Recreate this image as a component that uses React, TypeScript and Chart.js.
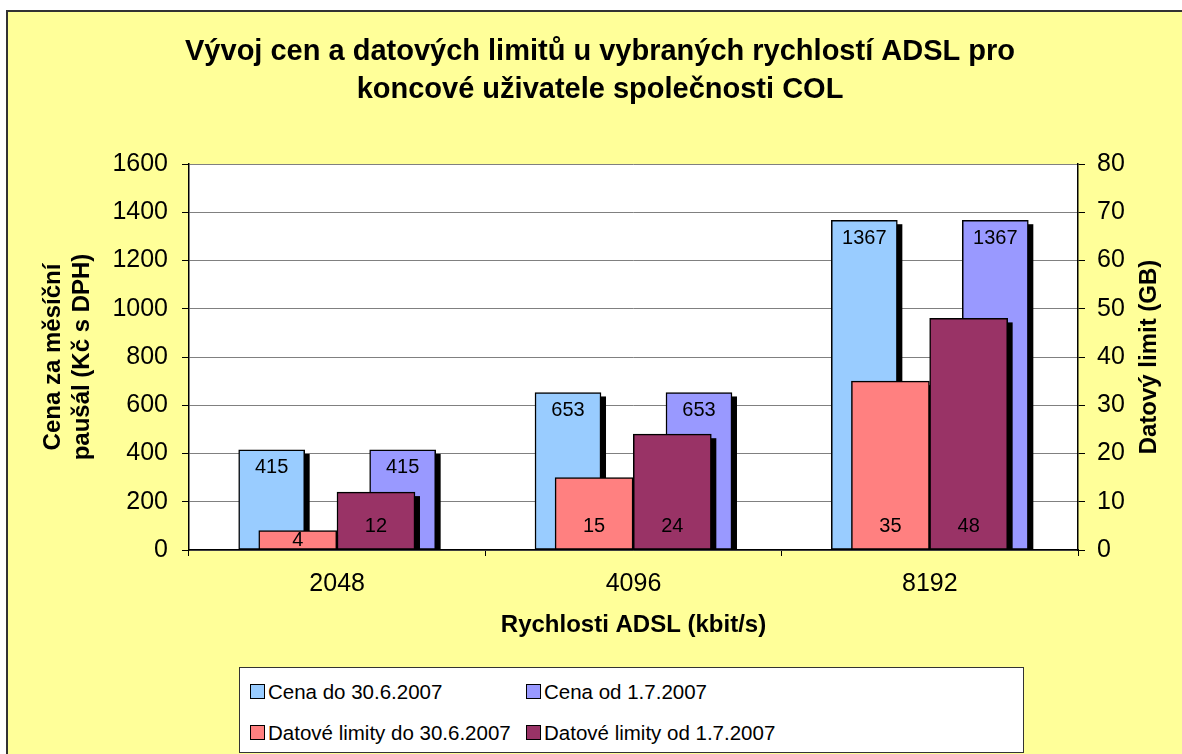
import React, { useEffect, useRef } from 'react';
import { Chart, registerables } from 'chart.js';

Chart.register(...registerables);

const FONT = "'Liberation Sans', Arial, Helvetica, sans-serif";

// ---- data ----
const categories = ['2048', '4096', '8192'];
const cenaDo = [415, 653, 1367];
const cenaOd = [415, 653, 1367];
const limityDo = [4, 15, 35];
const limityOd = [12, 24, 48];

const leftTicks = [0, 200, 400, 600, 800, 1000, 1200, 1400, 1600];
const rightTicks = [0, 10, 20, 30, 40, 50, 60, 70, 80];

const seriesNames = [
  'Cena do 30.6.2007',
  'Cena od 1.7.2007',
  'Datové limity do 30.6.2007',
  'Datové limity od 1.7.2007',
];
const seriesColors = ['#99CCFF', '#9999FF', '#FF8080', '#993366'];

const titleLines = [
  'Vývoj cen a datových limitů u vybraných rychlostí ADSL pro',
  'koncové uživatele společnosti COL',
];
const xTitle = 'Rychlosti ADSL (kbit/s)';
const yTitle = ['Cena za měsíční', 'paušál (Kč s DPH)'];
const y2Title = 'Datový limit (GB)';

// ---- layout (not data): bar offsets within a category (in category units) and widths ----
const barShift = [-0.221, 0.221, -0.133, 0.131];
const barWidthPx = [66, 66, 78, 78];
const seriesAxis = ['y', 'y', 'y2', 'y2'];
const seriesOrder = [2, 2, 1, 0];

// ---- plugin: plot background, bar shadows, data labels, right axis title ----
const excelPlugin: any = {
  id: 'excelLook',
  beforeDraw(chart: any) {
    const { ctx, chartArea: a } = chart;
    ctx.save();
    ctx.fillStyle = '#ffffff';
    ctx.fillRect(a.left, a.top, a.right - a.left, a.bottom - a.top);
    ctx.restore();
  },
  beforeDatasetDraw(chart: any, args: any) {
    const { ctx, chartArea: a } = chart;
    ctx.save();
    ctx.beginPath();
    ctx.rect(a.left, a.top, a.right - a.left, a.bottom - a.top);
    ctx.clip();
    ctx.fillStyle = '#000000';
    args.meta.data.forEach((el: any) => {
      const { x, y, base, width } = el.getProps(['x', 'y', 'base', 'width'], true);
      ctx.fillRect(x - width / 2 + 5, y + 4, width, base - y - 4);
    });
    ctx.restore();
  },
  afterDatasetsDraw(chart: any) {
    const { ctx } = chart;
    ctx.save();
    ctx.fillStyle = '#000';
    ctx.font = `20px ${FONT}`;
    ctx.textAlign = 'center';
    ctx.textBaseline = 'middle';
    chart.getSortedVisibleDatasetMetas().forEach((m: any) => {
      const ds = chart.data.datasets[m.index];
      m.data.forEach((el: any, i: number) => {
        const { x, y, base } = el.getProps(['x', 'y', 'base'], true);
        const pt = ds.data[i];
        const label = String(pt && typeof pt === 'object' ? pt.y : pt);
        let ly: number;
        if (m.yAxisID === 'y') {
          ly = y + 18;
        } else {
          ly = Math.max(base - 23, (y + base) / 2);
        }
        ctx.fillText(label, x, ly);
      });
    });
    ctx.restore();
  },
  afterDraw(chart: any) {
    const { ctx, chartArea: a } = chart;
    ctx.save();
    ctx.translate(a.right + 71, (a.top + a.bottom) / 2);
    ctx.rotate(-Math.PI / 2);
    ctx.fillStyle = '#000';
    ctx.font = `bold 24px ${FONT}`;
    ctx.textAlign = 'center';
    ctx.textBaseline = 'middle';
    ctx.fillText(y2Title, 0, 0);
    ctx.restore();
  },
};

export default function App() {
  const canvasRef = useRef<HTMLCanvasElement>(null);

  useEffect(() => {
    if (!canvasRef.current) return;
    const seriesValues = [cenaDo, cenaOd, limityDo, limityOd];
    const n = categories.length;

    const datasets = seriesValues.map((vals, s) => ({
      label: seriesNames[s],
      data: vals.map((v, i) => ({ x: i, y: v })),
      backgroundColor: seriesColors[s],
      borderColor: '#000',
      borderWidth: 1.5,
      borderSkipped: false,
      grouped: false,
      barThickness: barWidthPx[s],
      xAxisID: 'xs' + s,
      yAxisID: seriesAxis[s],
      order: seriesOrder[s],
    }));

    const hiddenX: any = {};
    barShift.forEach((sh, s) => {
      hiddenX['xs' + s] = {
        type: 'linear',
        display: false,
        offset: false,
        bounds: 'data',
        min: -0.5 - sh,
        max: n - 0.5 - sh,
        grid: { display: false },
      };
    });

    const chart = new Chart(canvasRef.current, {
      type: 'bar',
      data: {
        labels: categories,
        datasets,
      } as any,
      options: {
        responsive: false,
        animation: false,
        events: [],
        layout: { padding: { left: 18, right: 0, top: 0, bottom: 114 } },
        plugins: {
          legend: { display: false },
          tooltip: { enabled: false },
          title: {
            display: true,
            text: titleLines,
            color: '#000',
            font: { family: FONT, size: 29, weight: 'bold', lineHeight: 38 / 29 },
            padding: { top: 33, bottom: 55 },
          },
        },
        scales: {
          x: {
            type: 'category',
            position: 'bottom',
            labels: categories,
            offset: true,
            grid: {
              display: true,
              drawOnChartArea: false,
              offset: true,
              tickLength: 6,
              tickColor: '#000',
            },
            border: { display: true, color: '#000', width: 1.5 },
            ticks: {
              font: { family: FONT, size: 25 },
              color: '#000',
              padding: 13,
              maxRotation: 0,
            },
            title: {
              display: true,
              text: xTitle,
              color: '#000',
              font: { family: FONT, size: 24, weight: 'bold', lineHeight: 1.2 },
              padding: { top: 0, bottom: 0 },
            },
            afterFit: (s: any) => {
              s.height = 90;
            },
          },
          ...hiddenX,
          y: {
            position: 'left',
            min: leftTicks[0],
            max: leftTicks[leftTicks.length - 1],
            afterBuildTicks: (s: any) => {
              s.ticks = leftTicks.map((v) => ({ value: v }));
            },
            grid: { color: '#808080', tickColor: '#000', tickLength: 7, lineWidth: 1 },
            border: { display: true, color: '#000', width: 1.5 },
            ticks: {
              font: { family: FONT, size: 25 },
              color: '#000',
              padding: 14,
              callback: (v: any) => String(v),
            },
            title: {
              display: true,
              text: yTitle,
              color: '#000',
              font: { family: FONT, size: 24, weight: 'bold', lineHeight: 1.2 },
              padding: { top: 21, bottom: 0 },
            },
            afterFit: (s: any) => {
              s.width = 171;
            },
          },
          y2: {
            position: 'right',
            min: rightTicks[0],
            max: rightTicks[rightTicks.length - 1],
            afterBuildTicks: (s: any) => {
              s.ticks = rightTicks.map((v) => ({ value: v }));
            },
            grid: { drawOnChartArea: false, tickColor: '#000', tickLength: 7 },
            border: { display: true, color: '#000', width: 1.5 },
            ticks: {
              font: { family: FONT, size: 25 },
              color: '#000',
              padding: 12,
              callback: (v: any) => String(v),
            },
            afterFit: (s: any) => {
              s.width = 104;
            },
          },
        },
      } as any,
      plugins: [excelPlugin],
    });
    return () => chart.destroy();
  }, []);

  const legendPos = [
    { left: 11, top: 23.5 },
    { left: 287, top: 23.5 },
    { left: 11, top: 64.5 },
    { left: 287, top: 64.5 },
  ];

  return (
    <div
      style={{
        position: 'fixed',
        left: 0,
        top: 0,
        width: 1182,
        height: 754,
        overflow: 'hidden',
        background: '#ffffff',
      }}
    >
      <div
        style={{
          position: 'absolute',
          left: 6,
          top: 10,
          width: 1250,
          height: 800,
          background: '#FFFF99',
          borderLeft: '2px solid #333',
          borderTop: '2px solid #333',
        }}
      />
      <canvas
        ref={canvasRef}
        width={1182}
        height={754}
        style={{ position: 'absolute', left: 0, top: 0, width: 1182, height: 754 }}
      />
      <div
        style={{
          position: 'absolute',
          left: 239,
          top: 667,
          width: 785,
          height: 86,
          boxSizing: 'border-box',
          border: '1px solid #333',
          background: '#ffffff',
          fontFamily: FONT,
          fontSize: 20.5,
          color: '#000',
        }}
      >
        {seriesNames.map((name, i) => (
          <div
            key={name}
            style={{
              position: 'absolute',
              left: legendPos[i].left - 1,
              top: legendPos[i].top - 13,
              height: 26,
              display: 'flex',
              alignItems: 'center',
              whiteSpace: 'nowrap',
            }}
          >
            <span
              style={{
                display: 'inline-block',
                width: 15,
                height: 15,
                boxSizing: 'border-box',
                border: '1.5px solid #000',
                background: seriesColors[i],
                marginRight: 3,
              }}
            />
            <span style={{ lineHeight: '26px' }}>{name}</span>
          </div>
        ))}
      </div>
    </div>
  );
}
